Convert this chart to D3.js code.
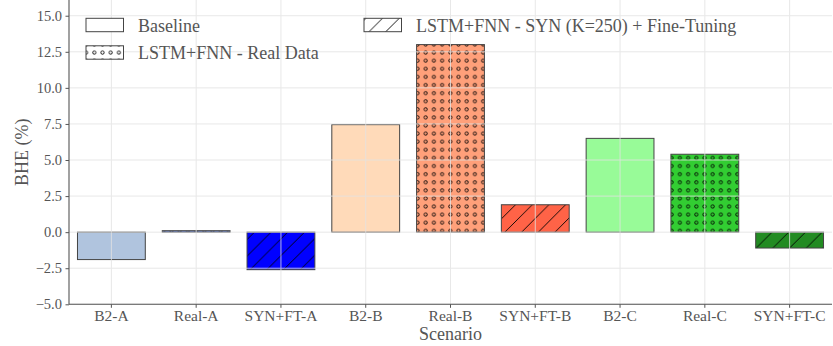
<!DOCTYPE html>
<html lang="en">
<head>
    <meta charset="UTF-8">
    <title>BHE by scenario</title>
    <script src="https://d3js.org/d3.v7.min.js"></script>
    <style>
        body { margin: 0; background: #fff; }
        svg text { font-family: "Liberation Serif", "Times New Roman", serif !important; fill: #555; }
    </style>
</head>
<body>
    <div id="plot"></div>

    <script>
        // data
        let scenarios = ['B2-A', 'Real-A', 'SYN+FT-A', 'B2-B', 'Real-B', 'SYN+FT-B', 'B2-C', 'Real-C', 'SYN+FT-C'];
        let bhe = [-1.9, 0.1, -2.6, 7.45, 13.0, 1.9, 6.5, 5.4, -1.1];
        let kinds = ['base', 'real', 'syn', 'base', 'real', 'syn', 'base', 'real', 'syn'];
        let colors = ['#b0c4de', '#4169e1', '#0000ff', '#ffdab9', '#ffa07a', '#ff6347', '#98fb98', '#32cd32', '#228b22'];
        let yTicks = [-5, -2.5, 0, 2.5, 5, 7.5, 10, 12.5, 15];
        let legendItems = [
            {label: 'Baseline', kind: 'base'},
            {label: 'LSTM+FNN - Real Data', kind: 'real'},
            {label: 'LSTM+FNN - SYN (K=250) + Fine-Tuning', kind: 'syn'}
        ];

        function translate(x, y){
            return 'translate(' + x + ', ' + y + ')';
        }

        let svgWidth = 833, svgHeight = 346;
        let margin = {top: 0, right: 1, bottom: 41.7, left: 69};
        let width = svgWidth - margin.left - margin.right;
        let height = svgHeight - margin.top - margin.bottom;
        let serif = '"Liberation Serif", "Times New Roman", serif';

        let svg = d3.select('#plot')
                    .append('svg')
                        .attr('width', svgWidth)
                        .attr('height', svgHeight);

        // hatch patterns (fixed in page space, like matplotlib)
        let defs = svg.append('defs');
        function dotPattern(id, bg){
            let p = defs.append('pattern').attr('id', id)
                .attr('patternUnits', 'userSpaceOnUse')
                .attr('width', 8.2).attr('height', 8.1);
            p.append('rect').attr('width', 8.2).attr('height', 8.1).attr('fill', bg);
            p.append('circle').attr('cx', 4.1).attr('cy', 4).attr('r', 1.6)
                .attr('fill', 'none').attr('stroke', '#000').attr('stroke-width', 0.9);
        }
        function slashPattern(id, bg){
            let s = 16.7;
            let p = defs.append('pattern').attr('id', id)
                .attr('patternUnits', 'userSpaceOnUse')
                .attr('width', s).attr('height', s);
            p.append('rect').attr('width', s).attr('height', s).attr('fill', bg);
            p.append('path')
                .attr('d', 'M0,' + s + 'L' + s + ',0 M-2,2 L2,-2 M' + (s - 2) + ',' + (s + 2) + 'L' + (s + 2) + ',' + (s - 2))
                .attr('stroke', '#000').attr('stroke-width', 0.9);
        }
        scenarios.forEach(function(d, i){
            if (kinds[i] === 'real') dotPattern('pat' + i, colors[i]);
            if (kinds[i] === 'syn') slashPattern('pat' + i, colors[i]);
        });
        dotPattern('leg-real', '#fff');
        slashPattern('leg-syn', '#fff');

        let g = svg.append('g').attr('transform', translate(margin.left, margin.top));

        let x = d3.scaleBand()
            .domain(scenarios)
            .range([0, width])
            .paddingInner(0.2)
            .paddingOuter(0.1);

        let y = d3.scaleLinear()
            .domain([-5, 16.09])
            .range([height, 0]);

        // bars
        g.selectAll('rect.bar')
            .data(scenarios)
            .enter()
            .append('rect')
            .attr('class', 'bar')
            .attr('x', d => x(d))
            .attr('width', x.bandwidth())
            .attr('y', (d, i) => y(Math.max(0, bhe[i])))
            .attr('height', (d, i) => Math.abs(y(bhe[i]) - y(0)))
            .attr('fill', (d, i) => kinds[i] === 'base' ? colors[i] : 'url(#pat' + i + ')')
            .attr('stroke', '#444')
            .attr('stroke-width', 1);

        // grid on top of the bars
        let grid = g.append('g').attr('stroke', '#e3e3e3').attr('stroke-width', 1).attr('opacity', 0.8);
        grid.selectAll('line.h')
            .data(yTicks)
            .enter()
            .append('line')
            .attr('x1', 0).attr('x2', width)
            .attr('y1', d => y(d)).attr('y2', d => y(d));
        grid.selectAll('line.v')
            .data(scenarios)
            .enter()
            .append('line')
            .attr('x1', d => x(d) + x.bandwidth() / 2).attr('x2', d => x(d) + x.bandwidth() / 2)
            .attr('y1', 0).attr('y2', height);

        // axes
        let xAxis = d3.axisBottom(x).tickSize(3.5).tickPadding(2.5);
        let yAxis = d3.axisLeft(y).tickValues(yTicks).tickSize(3.5).tickPadding(3.5)
            .tickFormat(d => d3.format('.1f')(d).replace('-', '\u2212'));

        let gx = g.append('g')
            .attr('transform', translate(0, height))
            .call(xAxis);
        gx.attr('font-family', serif);
        gx.select('.domain').attr('d', 'M0,0H' + width);
        gx.selectAll('text').style('font-size', '15.5px').style('font-family', serif);

        let gy = g.append('g').call(yAxis);
        gy.attr('font-family', serif);
        gy.select('.domain').attr('d', 'M0,' + height + 'V0');
        gy.selectAll('text').style('font-size', '14.5px').style('font-family', serif);

        svg.selectAll('.domain').attr('stroke', '#555').attr('stroke-width', 1.1);
        svg.selectAll('.tick line').attr('stroke', '#555');

        // axis titles
        svg.append('text')
            .attr('x', margin.left + width / 2)
            .attr('y', 340)
            .attr('text-anchor', 'middle')
            .style('font-size', '18px')
            .text('Scenario');

        svg.append('text')
            .attr('transform', translate(28, margin.top + height / 2) + ' rotate(-90)')
            .attr('text-anchor', 'middle')
            .style('font-size', '18px')
            .text('BHE (%)');

        // legend, two columns, no frame
        let legendPos = [[86, 18.3], [86, 45.8], [364, 18.3]];
        let leg = svg.append('g');
        legendItems.forEach(function(d, i){
            let p = legendPos[i];
            leg.append('rect')
                .attr('x', p[0]).attr('y', p[1])
                .attr('width', 37.5).attr('height', 13.4)
                .attr('fill', d.kind === 'base' ? '#fff' : 'url(#leg-' + d.kind + ')')
                .attr('stroke', '#444')
                .attr('stroke-width', 1);
            leg.append('text')
                .attr('x', p[0] + 52)
                .attr('y', p[1] + 13.2)
                .style('font-size', '18px')
                .text(d.label);
        });
    </script>
</body>
</html>
